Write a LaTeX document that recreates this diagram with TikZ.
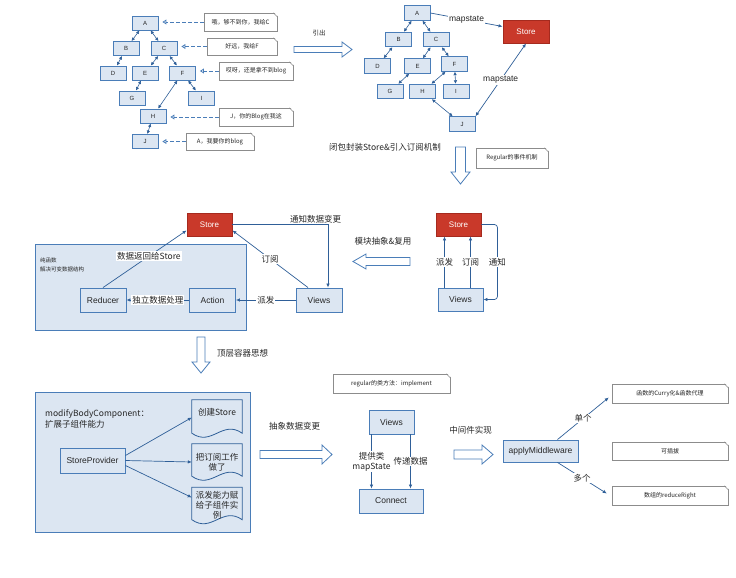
\documentclass[tikz,border=0pt]{standalone}
\usepackage{fontspec}
\setmainfont{Noto Sans CJK SC}
\newfontfamily\lat{Liberation Sans}
\usetikzlibrary{arrows.meta,backgrounds,calc}
\definecolor{boxfill}{HTML}{DCE6F2}
\definecolor{boxline}{HTML}{4A7DB8}
\definecolor{arr}{HTML}{2F5F98}
\definecolor{storered}{HTML}{C9392A}
\definecolor{storeline}{HTML}{A52A1E}
\definecolor{notegray}{HTML}{8C8C8C}
\definecolor{txt}{HTML}{262626}
\newcommand\mydogear[1]{%
  \fill[white] ([xshift=-4pt,yshift=1pt]#1.north east) -- ([xshift=1pt,yshift=1pt]#1.north east) -- ([xshift=1pt,yshift=-4pt]#1.north east) -- cycle;
  \draw[notegray,line width=0.5pt] ([xshift=-4pt]#1.north east) -- ([yshift=-4pt]#1.north east);}
\newcommand\mydocshape[1]{%
  \path[docshape] (#1.north west) -- (#1.north east) -- ([yshift=4pt]#1.south east)
    .. controls ([xshift=-20pt,yshift=18pt]#1.south east) and ([xshift=20pt,yshift=-10pt]#1.south west) .. ([yshift=4pt]#1.south west) -- cycle;}
\tikzset{
  tnode/.style={draw=boxline, fill=boxfill, line width=0.9pt, minimum width=26pt, minimum height=14pt, inner sep=0pt, font=\lat\fontsize{6}{7}\selectfont, text=txt},
  bnode/.style={draw=boxline, fill=boxfill, line width=0.9pt, inner sep=0pt, font=\lat\fontsize{8.5}{10}\selectfont, text=txt},
  storen/.style={draw=storeline, fill=storered, line width=0.9pt, minimum width=45pt, minimum height=23pt, inner sep=0pt, font=\lat\fontsize{8}{10}\selectfont, text=white},
  note/.style={draw=notegray, fill=white, line width=0.5pt, inner sep=0pt, font=\fontsize{6}{7}\selectfont, text=txt},
  bigbox/.style={draw=boxline, fill=boxfill, line width=0.9pt, inner sep=0pt},
  lbl/.style={fill=white, inner sep=1pt, font=\fontsize{8.5}{10}\selectfont, text=txt},
  plain/.style={inner sep=0pt, font=\fontsize{8.5}{10}\selectfont, text=txt},
  small/.style={inner sep=0pt, font=\fontsize{5.5}{7}\selectfont, text=txt, anchor=west},
  tedge/.style={draw=arr, line width=0.6pt, arrows={Latex[length=3.5pt,width=3.5pt]-Latex[length=3.5pt,width=3.5pt]}},
  conn/.style={draw=arr, line width=0.7pt, arrows={-Latex[length=4pt,width=3.5pt]}},
  dconn/.style={draw=arr, line width=0.7pt, arrows={Latex[length=4pt,width=3.5pt]-Latex[length=4pt,width=3.5pt]}},
  nedge/.style={draw=boxline, line width=0.8pt, dash pattern=on 4pt off 2pt, arrows={-Triangle[open,length=4pt,width=5pt]}, shorten >=4pt},
  harrow/.style={draw=boxline, fill=white, line width=0.8pt},
  docn/.style={inner sep=0pt, font=\fontsize{8.5}{10}\selectfont, text=txt, align=center},
  docshape/.style={draw=arr, fill=boxfill, line width=0.8pt},
}
\begin{document}
\begin{tikzpicture}[x=1pt,y=-1pt]
\useasboundingbox (0,0) rectangle (736,578);

% ---------- top-left tree ----------
\node[tnode] (A) at (145,23) {A};
\node[tnode] (B) at (126,48.5) {B};
\node[tnode] (C) at (164,48.5) {C};
\node[tnode] (D) at (113,73) {D};
\node[tnode] (E) at (145,73) {E};
\node[tnode] (F) at (182.5,73) {F};
\node[tnode] (G) at (132,98) {G};
\node[tnode] (I) at (201.5,98) {I};
\node[tnode] (H) at (153,116) {H};
\node[tnode] (J) at (145,141.5) {J};
\draw[tedge] (A) -- (B);
\draw[tedge] (A) -- (C);
\draw[tedge] (B) -- (D);
\draw[tedge] (C) -- (E);
\draw[tedge] (C) -- (F);
\draw[tedge] (E) -- (G);
\draw[tedge] (F) -- (I);
\draw[tedge] (F) -- (H);
\draw[tedge] (H) -- (J);

\node[note, minimum width=73pt, minimum height=18pt] (nA) at (240.5,22) {哦，够不到你，我给C};
\node[note, minimum width=70pt, minimum height=17pt] (nC) at (242,46.5) {好远，我给F};
\node[note, minimum width=74pt, minimum height=18pt] (nF) at (256,71) {哎呀，还是拿不到blog};
\node[note, minimum width=74pt, minimum height=18pt] (nH) at (256,117) {J，你的Blog在我这};
\node[note, minimum width=68pt, minimum height=17pt] (nJ) at (220,141.5) {A，我要你的blog};
\mydogear{nA}\mydogear{nC}\mydogear{nF}\mydogear{nH}\mydogear{nJ}
\draw[nedge] (nA.west) -- (A.east |- nA.west);
\draw[nedge] (nC.west) -- (C.east |- nC.west);
\draw[nedge] (nF.west) -- (F.east |- nF.west);
\draw[nedge] (nH.west) -- (H.east |- nH.west);
\draw[nedge] (nJ.west) -- (J.east |- nJ.west);

\node[plain, font=\fontsize{6.5}{8}\selectfont] (tyc) at (319,33) {引出};
\draw[harrow] (294,46.5) -- (342,46.5) -- (342,42) -- (352,49.5) -- (342,57) -- (342,52.5) -- (294,52.5) -- cycle;

% ---------- top-right tree ----------
\node[tnode, minimum height=14.5pt] (A2) at (417,13) {A};
\node[tnode, minimum height=14.5pt] (B2) at (398.5,39.5) {B};
\node[tnode, minimum height=14.5pt] (C2) at (436,39.5) {C};
\node[tnode, minimum height=14.5pt] (D2) at (377.5,66) {D};
\node[tnode, minimum height=14.5pt] (E2) at (417.5,66) {E};
\node[tnode, minimum height=14.5pt] (F2) at (454.5,64) {F};
\node[tnode, minimum height=14.5pt] (G2) at (390,91.5) {G};
\node[tnode, minimum height=14.5pt] (H2) at (422.5,91.5) {H};
\node[tnode, minimum height=14.5pt] (I2) at (456,91.5) {I};
\node[tnode, minimum height=14.5pt] (J2) at (462,124) {J};
\node[storen, minimum width=46pt] (S2) at (526,31.5) {Store};
\draw[tedge] (A2) -- (B2);
\draw[tedge] (A2) -- (C2);
\draw[tedge] (B2) -- (D2);
\draw[tedge] (C2) -- (E2);
\draw[tedge] (C2) -- (F2);
\draw[tedge] (E2) -- (G2);
\draw[tedge] (F2) -- (H2);
\draw[tedge] (F2) -- (I2);
\draw[tedge] (H2) -- (J2);
\draw[conn] (A2.east) -- node[lbl, font=\lat\fontsize{8.5}{10}\selectfont] (ms1) {mapstate} ([yshift=5pt]S2.west);
\draw[dconn] (J2.north east) -- node[lbl, font=\lat\fontsize{8.5}{10}\selectfont] (ms2) {mapstate} (S2.south);

\node[plain] (tbb) at (385,147) {闭包封装Store\&引入订阅机制};
\draw[harrow] (455.5,147) -- (465.5,147) -- (465.5,172) -- (470,172) -- (460.5,184) -- (451,172) -- (455.5,172) -- cycle;
\node[note, minimum width=72pt, minimum height=20pt] (nR) at (512,158) {Regular的事件机制};
\mydogear{nR}

% ---------- middle left ----------
\node[storen] (S3) at (209.5,224.5) {Store};
\node[bigbox, minimum width=211pt, minimum height=86pt] (box1) at (140.5,287) {};
\node[small] (tc1) at (40,260) {纯函数};
\node[small] (tc2) at (40,269.5) {解决可变数据结构};
\node[bnode, minimum width=46pt, minimum height=24pt] (Red) at (103,300) {Reducer};
\node[bnode, minimum width=46pt, minimum height=24pt] (Act) at (212.5,300) {Action};
\node[bnode, minimum width=46pt, minimum height=24pt] (V3) at (319,300) {Views};
\draw[conn] (Red.north) -- node[lbl, pos=0.55] (l1) {数据返回给Store} ([yshift=6pt]S3.south west);
\draw[conn] (Act.west) -- node[lbl] (l2) {独立数据处理} (Red.east);
\draw[conn] (V3.west) -- node[lbl] (l3) {派发} (Act.east);
\draw[conn] ([xshift=-11pt]V3.north) -- node[lbl] (l4) {订阅} ([yshift=6pt]S3.south east);
\draw[conn] (S3.east) -| node[lbl, pos=0.5, xshift=-12.5pt, yshift=5.5pt] (l5) {通知数据变更} ([xshift=9pt]V3.north);

% ---------- middle right ----------
\node[storen] (S4) at (458.5,224.5) {Store};
\node[bnode, minimum width=45pt, minimum height=23pt] (V4) at (460.5,299.5) {Views};
\draw[conn] ([xshift=-16pt]V4.north) -- node[lbl] (l6) {派发} ([xshift=-16pt]V4.north |- S4.south);
\draw[conn] ([xshift=10pt]V4.north) -- node[lbl] (l7) {订阅} ([xshift=10pt]V4.north |- S4.south);
\draw[conn, rounded corners=3pt] (S4.east) -- ([xshift=16pt]S4.east) |- node[lbl, pos=0.25] (l8) {通知} (V4.east);
\node[plain] (tmk) at (383,241) {模块抽象\&复用};
\draw[harrow] (410,257.5) -- (366,257.5) -- (366,254) -- (353,261.5) -- (366,269) -- (366,265.5) -- (410,265.5) -- cycle;

% ---------- down arrow ----------
\draw[harrow] (197,337) -- (205,337) -- (205,362) -- (210,362) -- (201,373) -- (192,362) -- (197,362) -- cycle;
\node[plain] (tdc) at (242.5,353) {顶层容器思想};

% ---------- bottom left ----------
\begin{scope}[on background layer]
\node[bigbox, minimum width=215pt, minimum height=140pt] (box2) at (142.5,462) {};
\end{scope}
\node[plain, anchor=west] (tm1) at (45,414) {modifyBodyComponent：};
\node[plain, anchor=west] (tm2) at (45,424.5) {扩展子组件能力};
\node[bnode, minimum width=65pt, minimum height=25pt] (SP) at (92.5,460.5) {StoreProvider};
\node[docn, minimum width=50pt, minimum height=37pt] (d1) at (217,418.5) {创建Store\\[3pt]};
\node[docn, minimum width=50pt, minimum height=36pt] (d2) at (217,462) {把订阅工作\\做了};
\node[docn, minimum width=50pt, minimum height=36pt] (d3) at (217,505.5) {派发能力赋\\给子组件实\\例};
\begin{scope}[on background layer]
\mydocshape{d1}\mydocshape{d2}\mydocshape{d3}
\end{scope}
\draw[conn] ([yshift=5pt]SP.east) -- ([yshift=1pt]d1.west);
\draw[conn] (SP.east) -- (d2.west);
\draw[conn] ([yshift=-5pt]SP.east) -- ([yshift=8pt]d3.west);

\node[plain] (tcx) at (294.5,426) {抽象数据变更};
\draw[harrow] (260,450.5) -- (322,450.5) -- (322,445) -- (332,454.5) -- (322,464) -- (322,458.5) -- (260,458.5) -- cycle;

% ---------- bottom middle ----------
\node[note, minimum width=117pt, minimum height=19pt] (nI) at (391.5,383.5) {regular的类方法：implement};
\mydogear{nI}
\node[bnode, minimum width=45pt, minimum height=24pt] (V5) at (391.5,422) {Views};
\node[bnode, minimum width=64pt, minimum height=24pt] (Con) at (391,501) {Connect};
\draw[conn] ([xshift=-20pt]V5.south) -- node[lbl, align=center] (l9) {提供类\\mapState} ([xshift=-20pt]V5.south |- Con.north);
\draw[conn] ([xshift=19pt]V5.south) -- node[lbl] (l10) {传递数据} ([xshift=19pt]V5.south |- Con.north);

\node[plain] (tzj) at (470.5,430) {中间件实现};
\draw[harrow] (454,450) -- (482,450) -- (482,445) -- (493,454.5) -- (482,464) -- (482,459) -- (454,459) -- cycle;

% ---------- bottom right ----------
\node[bnode, minimum width=75pt, minimum height=22pt] (AM) at (540.5,451) {applyMiddleware};
\node[note, minimum width=116pt, minimum height=19pt] (N1) at (670,393.5) {函数的Curry化\&函数代理};
\node[note, minimum width=116pt, minimum height=18pt] (N2) at (670,451) {可插拔};
\node[note, minimum width=116pt, minimum height=19pt] (N3) at (670,495.5) {数组的reduceRight};
\mydogear{N1}\mydogear{N2}\mydogear{N3}
\draw[conn] ([xshift=17pt]AM.north) -- node[lbl] (l11) {单个} ([xshift=-3pt,yshift=-4pt]N1.west);
\draw[conn] ([xshift=17pt]AM.south) -- node[lbl] (l12) {多个} ([xshift=-5pt,yshift=2pt]N3.west);
\end{tikzpicture}
\end{document}
